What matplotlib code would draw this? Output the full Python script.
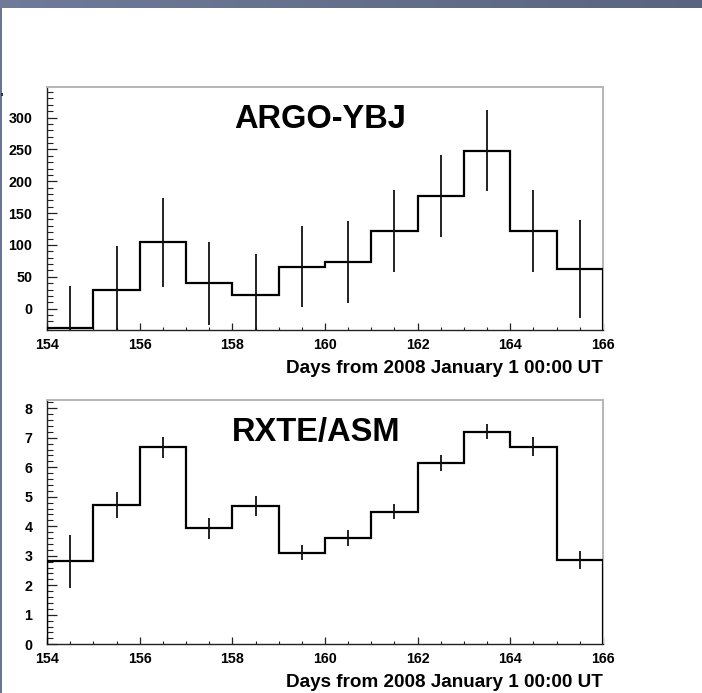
import matplotlib
matplotlib.use("Agg")
import matplotlib.pyplot as plt
import matplotlib.ticker as mticker
import numpy as np
from matplotlib.patches import Rectangle

plt.rcParams["font.family"] = ["Liberation Sans", "DejaVu Sans"]
plt.rcParams["font.weight"] = "bold"

# ---------------------------------------------------------------------------
# Data (daily bins)
# ---------------------------------------------------------------------------
bin_edges = np.arange(154, 167, 1)

argo_counts = [-31, 30, 104, 40, 22, 66, 73, 122, 177, 248, 122, 62]
argo_errors = [67, 68, 70, 65, 64, 64, 64, 65, 65, 64, 65, 77]

asm_rate = [2.82, 4.72, 6.68, 3.93, 4.69, 3.10, 3.60, 4.50, 6.15, 7.20, 6.70, 2.86]
asm_errors = [0.90, 0.45, 0.35, 0.35, 0.35, 0.25, 0.27, 0.25, 0.26, 0.25, 0.32, 0.30]

x_label = "Days from 2008 January 1 00:00 UT"

W, H = 702, 693
fig = plt.figure(figsize=(W / 100, H / 100), dpi=100)
fig.patch.set_facecolor("white")

# slide decoration: header bar and left border
n_grad = 60
for i in range(n_grad):
    t = i / (n_grad - 1)
    c = (0.435 + (0.353 - 0.435) * t, 0.478 + (0.392 - 0.478) * t, 0.596 + (0.502 - 0.596) * t)
    fig.patches.append(Rectangle((i / n_grad, 1 - 8 / H), 1 / n_grad + 0.001, 8 / H,
                                 transform=fig.transFigure, color=c, lw=0, zorder=0))
fig.patches.append(Rectangle((0, 0), 2 / W, 1 - 8 / H, transform=fig.transFigure,
                             color="#6a7592", lw=0, zorder=0))
fig.patches.append(Rectangle((1 / W, 1 - 96 / H), 2 / W, 3 / H, transform=fig.transFigure,
                             color="#333333", lw=0, zorder=0))


def style_axes(ax, ymaj, ymin_step):
    ax.set_xlim(154, 166)
    ax.xaxis.set_major_locator(mticker.MultipleLocator(2))
    ax.xaxis.set_minor_locator(mticker.MultipleLocator(0.5))
    ax.yaxis.set_major_locator(mticker.MultipleLocator(ymaj))
    ax.yaxis.set_minor_locator(mticker.MultipleLocator(ymin_step))
    ax.tick_params(axis="x", which="major", direction="in", length=5, width=0.9,
                   labelsize=10.3, pad=5.5, colors="#222222")
    ax.tick_params(axis="x", which="minor", direction="in", length=2.5, width=0.8,
                   colors="#222222")
    ax.tick_params(axis="y", which="major", direction="in", length=7, width=0.9,
                   labelsize=10.3, pad=10.5, colors="#222222")
    ax.tick_params(axis="y", which="minor", direction="in", length=4, width=0.8,
                   colors="#222222")
    for lab in ax.get_xticklabels() + ax.get_yticklabels():
        lab.set_fontweight("bold")
        lab.set_color("black")
    ax.spines["left"].set_color("#222222")
    ax.spines["bottom"].set_color("#222222")
    ax.spines["left"].set_linewidth(1.0)
    ax.spines["bottom"].set_linewidth(1.0)
    ax.spines["top"].set_color("#b5b5b5")
    ax.spines["right"].set_color("#b5b5b5")
    ax.spines["top"].set_linewidth(1.4)
    ax.spines["right"].set_linewidth(1.4)
    ax.set_xlabel(x_label, loc="right", fontsize=13.6, fontweight="bold", labelpad=6)


def draw_hist(ax, values, errors, ylo):
    centers = (bin_edges[:-1] + bin_edges[1:]) / 2
    ax.stairs(values, bin_edges, baseline=ylo, fill=False, color="black", lw=1.6, zorder=3)
    ax.errorbar(centers, values, yerr=errors, fmt="none", ecolor="#111111",
                elinewidth=1.3, capsize=0, zorder=3)


# ---------------------------------------------------------------------------
# Top panel: ARGO-YBJ
# ---------------------------------------------------------------------------
ax1 = fig.add_axes([47 / W, 1 - 330 / H, 556 / W, 243 / H])
ylo1, yhi1 = -33.5, 348
ax1.set_ylim(ylo1, yhi1)
draw_hist(ax1, argo_counts, argo_errors, ylo1)
style_axes(ax1, 50, 10)
ax1.text(320 / W, 1 - 120 / H, "ARGO-YBJ", transform=fig.transFigure, fontsize=23.5,
         fontweight="bold", ha="center", va="center")

# ---------------------------------------------------------------------------
# Bottom panel: RXTE/ASM
# ---------------------------------------------------------------------------
ax2 = fig.add_axes([47 / W, 1 - 644.3 / H, 556 / W, 244.3 / H])
ylo2, yhi2 = 0, 8.28
ax2.set_ylim(ylo2, yhi2)
draw_hist(ax2, asm_rate, asm_errors, ylo2)
style_axes(ax2, 1, 0.2)
ax2.text(316 / W, 1 - 433 / H, "RXTE/ASM", transform=fig.transFigure, fontsize=23.5,
         fontweight="bold", ha="center", va="center")

fig.savefig("out.png", dpi=100, facecolor=fig.get_facecolor())
plt.close(fig)
